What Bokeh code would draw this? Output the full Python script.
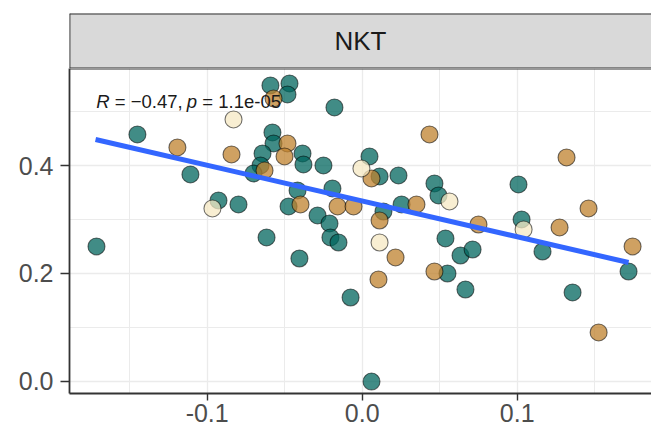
from bokeh.plotting import figure
from bokeh.layouts import column
from bokeh.models import Range1d, FixedTicker, PrintfTickFormatter, Label, Span, ColumnDataSource
from bokeh.embed import file_html
from bokeh.resources import INLINE

# ---- data ----
panel_title = "NKT"
stat_text = ["R", "= \u22120.47,", "p", "= 1.1e-05"]

teal_x = [-0.1714, -0.1450, -0.1108, -0.0927, -0.0798, -0.0617, -0.0592, -0.0469, -0.0482, -0.0179,
          -0.0579, -0.0572, -0.0643, -0.0656, -0.0701, -0.0385, -0.0379, -0.0250, -0.0192, -0.0417,
          -0.0475, -0.0288, -0.0211, -0.0405, -0.0205, -0.0153, -0.0075, 0.0047, 0.0112, 0.0234,
          0.0466, 0.0492, 0.0254, 0.0137, 0.0537, 0.0634, 0.0712, 0.0550, 0.0666, 0.0060,
          0.1008, 0.1028, 0.1163, 0.1357, 0.1718]
teal_y = [0.2499, 0.4577, 0.3835, 0.3353, 0.3278, 0.2666, 0.5486, 0.5523, 0.5319, 0.5078,
          0.4614, 0.4410, 0.4224, 0.4002, 0.3853, 0.4224, 0.4020, 0.4002, 0.3575, 0.3538,
          0.3241, 0.3074, 0.2926, 0.2276, 0.2666, 0.2573, 0.1553, 0.4169, 0.3798, 0.3816,
          0.3668, 0.3445, 0.3278, 0.3148, 0.2648, 0.2332, 0.2443, 0.1998, 0.1701, -0.0006,
          0.3649, 0.3000, 0.2406, 0.1646, 0.2035]

tan_x = [-0.1192, -0.0843, -0.0482, -0.0501, -0.0398, -0.0159, -0.0056, -0.0572, -0.0630, 0.0434,
         0.0060, 0.0350, 0.0112, 0.0750, 0.1318, 0.1460, 0.1273, 0.0215, 0.0105, 0.0466,
         0.1525, 0.1744]
tan_y = [0.4336, 0.4206, 0.4410, 0.4169, 0.3278, 0.3241, 0.3241, 0.5245, 0.3909, 0.4577,
         0.3761, 0.3278, 0.2981, 0.2907, 0.4150, 0.3204, 0.2852, 0.2295, 0.1887, 0.2035,
         0.0904, 0.2499]

cream_x = [-0.0830, -0.0966, -0.0005, 0.0563, 0.1041, 0.0112]
cream_y = [0.4855, 0.3204, 0.3946, 0.3334, 0.2814, 0.2573]

fit_x = [-0.172, 0.1718]
fit_y = [0.4484, 0.2202]

x_ticks = [-0.1, 0.0, 0.1]
x_minor = [-0.15, -0.05, 0.05, 0.15]
y_ticks = [0.0, 0.2, 0.4]
y_minor = [0.1, 0.3, 0.5]

FONT = "Liberation Sans"
W = 651
BORDER = "#333333"

# ---- strip ----
strip = figure(width=W, height=68, output_backend="svg", toolbar_location=None,
               x_range=Range1d(0, 1), y_range=Range1d(0, 1),
               min_border_left=69, min_border_right=0, min_border_top=13, min_border_bottom=0)
strip.axis.visible = False
strip.grid.visible = False
strip.outline_line_color = None
strip.background_fill_color = "#D9D9D9"
strip.border_fill_color = "white"
for loc in (0, 1):
    strip.add_layout(Span(location=loc, dimension="width", line_color=BORDER, line_width=1.8))
strip.add_layout(Span(location=0, dimension="height", line_color=BORDER, line_width=1.8))
strip.add_layout(Label(x=0.5, y=0.5, text=panel_title, text_align="center", text_baseline="middle",
                       text_font=FONT, text_font_size="26px", text_color="#1A1A1A"))

# ---- main panel ----
p = figure(width=W, height=371, output_backend="svg", toolbar_location=None,
           x_range=Range1d(-0.1888, 0.1866), y_range=Range1d(-0.0228, 0.580),
           min_border_left=69, min_border_right=0, min_border_top=0, min_border_bottom=46)
p.outline_line_color = None
p.background_fill_color = "white"

p.xaxis.ticker = FixedTicker(ticks=x_ticks, minor_ticks=x_minor)
p.yaxis.ticker = FixedTicker(ticks=y_ticks, minor_ticks=y_minor)
p.xaxis.formatter = PrintfTickFormatter(format="%.1f")
p.yaxis.formatter = PrintfTickFormatter(format="%.1f")
for ax in (p.xaxis, p.yaxis):
    ax.axis_line_color = BORDER
    ax.axis_line_width = 1.8
    ax.major_tick_line_color = BORDER
    ax.major_tick_line_width = 1.4
    ax.major_tick_in = 0
    ax.minor_tick_line_color = None
    ax.major_label_text_font = FONT
    ax.major_label_text_font_size = "25px"
    ax.major_label_text_color = "#4D4D4D"
p.xaxis.major_tick_out = 7
p.xaxis.major_label_standoff = 3
p.yaxis.major_tick_out = 9
p.yaxis.major_label_standoff = 7
for g in (p.xgrid, p.ygrid):
    g.grid_line_color = "#EBEBEB"
    g.grid_line_width = 1.3
    g.minor_grid_line_color = "#EBEBEB"
    g.minor_grid_line_width = 1.0
# lower half of the strip's bottom border
p.add_layout(Span(location=0.580, dimension="width", line_color=BORDER, line_width=1.8))

def pts(xs, ys, color):
    src = ColumnDataSource(dict(x=xs, y=ys))
    p.scatter("x", "y", source=src, size=17, fill_color=color, fill_alpha=0.75,
              line_color="#000000", line_alpha=0.55, line_width=1.1)

pts(teal_x, teal_y, "#01665E")
pts(tan_x, tan_y, "#BF812D")
pts(cream_x, cream_y, "#F6E8C3")

p.line(fit_x, fit_y, line_color="#3366FF", line_width=5)

# annotation (italic R and p)
offs = [0, 18.5, 90.5, 106]
styles = ["italic", "normal", "italic", "normal"]
for t, o, s in zip(stat_text, offs, styles):
    p.add_layout(Label(x=-0.1715, y=0.519, x_offset=o, text=t, text_font=FONT,
                       text_font_size="18.5px", text_font_style=s, text_color="#1A1A1A",
                       text_baseline="middle", text_align="left"))

layout = column(strip, p, spacing=0)
open("out.html", "w").write(file_html(layout, INLINE))
